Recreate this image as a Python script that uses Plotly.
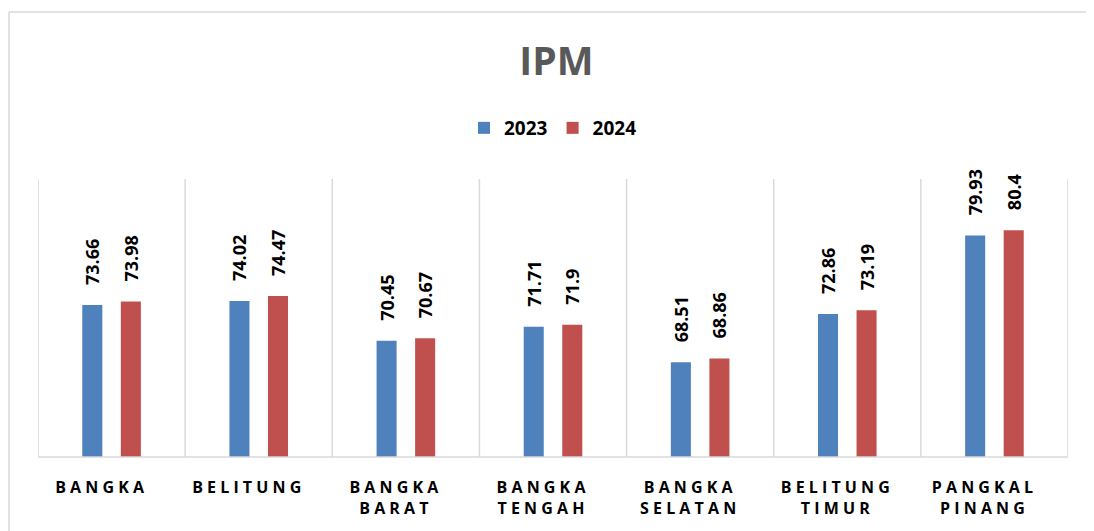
import plotly.graph_objects as go

categories = ["BANGKA", "BELITUNG", "BANGKA BARAT", "BANGKA TENGAH",
              "BANGKA SELATAN", "BELITUNG TIMUR", "PANGKAL PINANG"]
values_2023 = [73.66, 74.02, 70.45, 71.71, 68.51, 72.86, 79.93]
values_2024 = [73.98, 74.47, 70.67, 71.9, 68.86, 73.19, 80.4]
series_names = ["2023", "2024"]
colors = ["#4F81BD", "#C0504D"]


def spaced(label):
    # letter-spaced, two-line category labels
    return "<br>".join(" ".join(list(w)) for w in label.split(" "))


tick_labels = [spaced(c) for c in categories]
x_idx = list(range(len(categories)))

# page is rendered with an 8px body margin, so the figure is 8px smaller
OFF = 8
W, H = 1094 - OFF, 531 - OFF
ml, mr, mt, mb = 38 - OFF, 26, 179 - OFF, 74
pw, ph = W - ml - mr, H - mt - mb

fig = go.Figure()
for name, vals, col in zip(series_names, [values_2023, values_2024], colors):
    fig.add_trace(go.Bar(
        name=name, x=x_idx, y=vals, marker_color=col,
        marker_line_width=0,
        text=[f"\u00a0\u00a0\u00a0\u2009{v:g}" for v in vals],
        textposition="outside", textangle=-90,
        textfont=dict(family="Open Sans", size=18, color="#000000", weight="bold"),
        cliponaxis=False, constraintext="none",
    ))

shapes = []
# vertical category separators
for i in range(len(categories) + 1):
    shapes.append(dict(type="line", xref="x", yref="paper",
                       x0=i - 0.5, x1=i - 0.5, y0=0, y1=1,
                       line=dict(color="#D9D9D9", width=1.5)))
# baseline
shapes.append(dict(type="line", xref="paper", yref="paper", x0=0, x1=1, y0=0, y1=0,
                   line=dict(color="#D9D9D9", width=1.5)))
# outer chart border (left and top)
bx = (1 - ml) / pw
by = (H - mb - 4) / ph
shapes.append(dict(type="line", xref="paper", yref="paper", x0=bx, x1=bx,
                   y0=-mb / ph, y1=by, line=dict(color="#D9D9D9", width=1.5)))
shapes.append(dict(type="line", xref="paper", yref="paper", x0=bx, x1=(W - ml) / pw,
                   y0=by, y1=by, line=dict(color="#D9D9D9", width=1.5)))

fig.update_layout(
    width=W, height=H,
    margin=dict(l=ml, r=mr, t=mt, b=mb),
    paper_bgcolor="white", plot_bgcolor="white",
    barmode="group", bargap=0.476, bargroupgap=0.48,
    title=dict(text="<b>IPM</b>", x=0.505, xanchor="center", y=1 - 53 / H, yanchor="middle",
               font=dict(family="Open Sans", size=39, color="#595959")),
    legend=dict(orientation="h", x=0.5, xanchor="center", y=1 + (mt - 120) / ph, yanchor="middle",
                font=dict(family="Open Sans", size=19, color="#000000", weight="bold"),
                itemwidth=30, traceorder="normal", bgcolor="rgba(0,0,0,0)"),
    xaxis=dict(tickmode="array", tickvals=x_idx, ticktext=tick_labels,
               range=[-0.5, len(categories) - 0.5], showgrid=False, zeroline=False,
               showline=False, ticks="", ticklabelstandoff=19, ticklabelshift=-12,
               tickfont=dict(family="Open Sans", size=16, color="#000000", weight="bold")),
    yaxis=dict(range=[60, 85], visible=False, showgrid=False, zeroline=False),
    shapes=shapes,
    showlegend=True,
)

fig.write_html("out.html")
